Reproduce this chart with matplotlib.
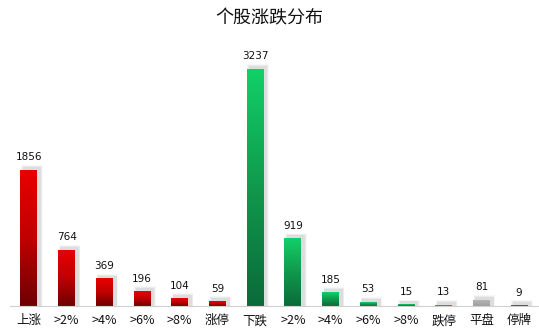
import numpy as np
from matplotlib import pyplot as plt
from matplotlib.colors import LinearSegmentedColormap
from matplotlib.patches import Rectangle

plt.rcParams['font.family'] = ['Noto Sans CJK SC', 'DejaVu Sans']

categories = ["上涨", ">2%", ">4%", ">6%", ">8%", "涨停",
              "下跌", ">2%", ">4%", ">6%", ">8%", "跌停", "平盘", "停牌"]
values = [1856, 764, 369, 196, 104, 59, 3237, 919, 185, 53, 15, 13, 81, 9]
groups = ["up"] * 6 + ["down"] * 6 + ["flat", "halt"]

cmaps = {
    "up": LinearSegmentedColormap.from_list("up", ["#6e0000", "#c00000", "#e80000"]),
    "down": LinearSegmentedColormap.from_list("down", ["#0b6a3a", "#10994c", "#12d068"]),
    "flat": LinearSegmentedColormap.from_list("flat", ["#a0a0a0", "#b4b4b4"]),
    "halt": LinearSegmentedColormap.from_list("halt", ["#404040", "#606060"]),
}

fig = plt.figure(figsize=(5.39, 3.33), dpi=100)
ax = fig.add_axes([10 / 539, 27 / 333, 528 / 539, 256 / 333])

width = 0.45
ymax = 3237 * 256 / 237
grad = np.linspace(0, 1, 256).reshape(-1, 1)
x = np.arange(len(values))

for i, (v, g) in enumerate(zip(values, groups)):
    # мягкая тень справа-сверху
    for k, a in enumerate([0.07, 0.09, 0.12]):
        d = 0.04 * (3 - k)
        ax.add_patch(Rectangle((i - width / 2 + 0.08 - d / 2, 0),
                               width + d, v + 35 + d * 300,
                               color="#808080", alpha=a, lw=0, zorder=1))
    ax.imshow(grad, extent=[i - width / 2, i + width / 2, 0, v],
              origin="lower", aspect="auto", cmap=cmaps[g], zorder=2)
    ax.text(i, v + ymax * 0.03, str(v), ha="center", va="bottom",
            fontsize=7.5, color="#111111", family="DejaVu Sans")

ax.set_xlim(-0.5, len(values) - 0.5)
ax.set_ylim(0, ymax)
ax.set_xticks(x)
ax.set_xticklabels(categories, fontsize=9, color="#111111")
ax.tick_params(axis="x", length=0, pad=6)
ax.set_yticks([])
for side in ["top", "left", "right"]:
    ax.spines[side].set_visible(False)
ax.spines["bottom"].set_color("#d0d0d0")

fig.text(0.5, 1 - 18 / 333, "个股涨跌分布", ha="center", va="center",
         fontsize=13, color="#111111")

fig.savefig("out.png", dpi=100)
